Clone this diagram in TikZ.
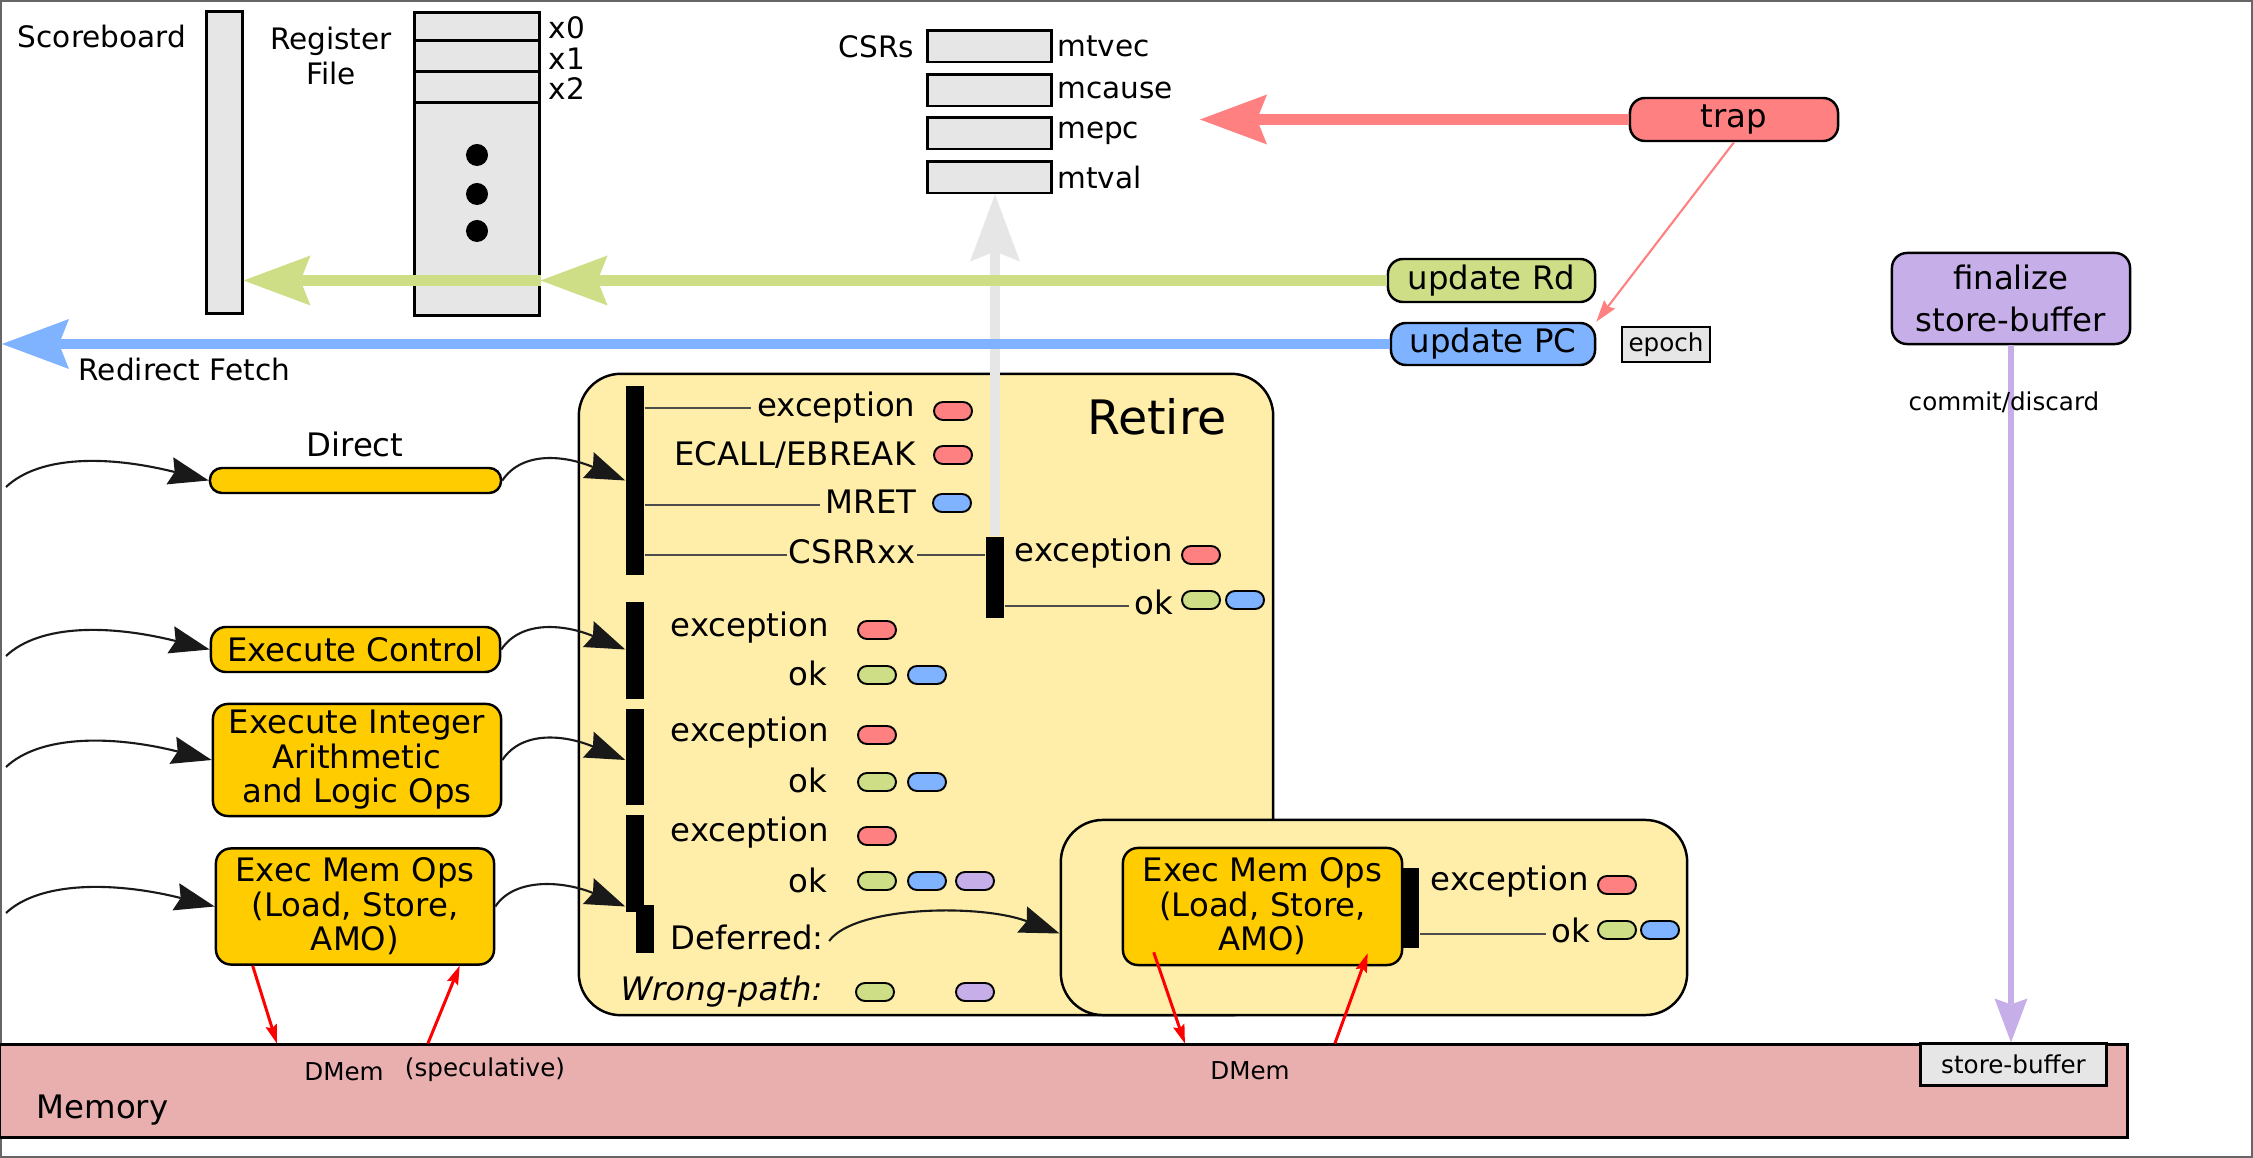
\documentclass[tikz,border=0pt]{standalone}
\usepackage{fontspec}
\setmainfont{DejaVu Sans}
\usetikzlibrary{arrows.meta,calc}
\definecolor{cyel}{HTML}{FFCC00}
\definecolor{cret}{HTML}{FFEEAA}
\definecolor{cred}{HTML}{FF8080}
\definecolor{cgrn}{HTML}{CDDE87}
\definecolor{cblu}{HTML}{80B3FF}
\definecolor{cpur}{HTML}{C6AFE9}
\definecolor{cgry}{HTML}{E6E6E6}
\definecolor{cmem}{HTML}{E9AFAF}
\definecolor{cframe}{HTML}{666666}
\begin{document}
\begin{tikzpicture}[x=0.01cm,y=-0.01cm,
  nf/.style={font=\fontsize{9.2}{9.8}\selectfont},
  tf/.style={font=\fontsize{8.4}{9.7}\selectfont},
  sf/.style={font=\fontsize{7}{8}\selectfont},
  lbl/.style={nf, inner sep=0.05cm, text height=7pt, text depth=2.2pt},
  grybox/.style={draw, line width=0.85pt, fill=cgry, inner sep=0},
  exnode/.style={draw, line width=0.7pt, fill=cyel, rounded corners=0.15cm, nf, align=center, inner sep=0},
  cnode/.style={draw, line width=0.7pt, rounded corners=0.15cm, nf, inner sep=0, align=center},
  blkbar/.style={fill=black, inner sep=0, minimum width=0.18cm},
  pill/.style={draw, line width=0.55pt, rounded corners=0.09cm, minimum width=0.38cm, minimum height=0.18cm, inner sep=0},
  tline/.style={line width=0.45pt, black!70},
  carrow/.style={line width=0.6pt, black!90, -{Stealth[length=0.4cm,width=0.28cm,inset=0.05cm,line width=0pt]}},
  marrow/.style={line width=0.85pt, red, -{Stealth[length=0.19cm,width=0.12cm,inset=0.03cm,line width=0pt]}},
  bigtip/.style={-{Stealth[length=0.67cm,width=0.5cm,inset=0.1cm,line width=0pt]}},
]
\useasboundingbox (0,0) rectangle (2253,1158);
\draw[cframe, line width=0.6pt] (1,1) rectangle (2252,1157);

% ---- scoreboard & register file
\node[tf] (sbl) at (102,36) {Scoreboard};
\node[grybox, minimum width=0.35cm, minimum height=3.01cm] (sb) at (224.5,162.5) {};
\node[tf, align=center] (rfl) at (331,56) {Register\\File};
\node[grybox, minimum width=1.24cm, minimum height=3.02cm] (rf) at (477,164) {};
\foreach \d in {29,60,91,273}
  \draw[line width=0.85pt] ($(rf.north west)+(0,\d)$) -- ($(rf.north east)+(0,\d)$);
\foreach \d in {155,194,231}
  \fill (477,\d) circle (0.11cm);
\node[tf, anchor=west, inner sep=0] (x0) at (548,28) {x0};
\node[tf, anchor=west, inner sep=0] (x1) at (548,59) {x1};
\node[tf, anchor=west, inner sep=0] (x2) at (548,89) {x2};

% ---- CSRs
\node[grybox, minimum width=1.23cm, minimum height=0.31cm] (c1) at (989.5,46.5) {};
\node[grybox, minimum width=1.23cm, minimum height=0.31cm] (c2) at (989.5,90.5) {};
\node[grybox, minimum width=1.23cm, minimum height=0.31cm] (c3) at (989.5,133.5) {};
\node[grybox, minimum width=1.23cm, minimum height=0.31cm] (c4) at (989.5,177.5) {};
\node[tf, anchor=east] (csrl) at (c1.west) {CSRs};
\node[tf, anchor=west, inner sep=0.04cm] (l1) at (c1.east) {mtvec};
\node[tf, anchor=west, inner sep=0.04cm] (l2) at (c2.east) {mcause};
\node[tf, anchor=west, inner sep=0.04cm] (l3) at (c3.east) {mepc};
\node[tf, anchor=west, inner sep=0.04cm] (l4) at (c4.east) {mtval};

% ---- right top nodes
\node[cnode, fill=cred, minimum width=2.08cm, minimum height=0.43cm] (trap) at (1734,119.5) {trap};
\node[cnode, fill=cgrn, minimum width=2.07cm, minimum height=0.43cm] (updrd) at (1491.5,280.5) {update Rd};
\node[cnode, fill=cblu, minimum width=2.04cm, minimum height=0.42cm] (updpc) at (1493,344) {update PC};
\node[draw, line width=0.6pt, fill=cgry, sf, minimum width=0.88cm, minimum height=0.35cm, inner sep=0] (epoch) at (1666,344.5) {epoch};
\node[cnode, fill=cpur, minimum width=2.38cm, minimum height=0.91cm, font=\fontsize{9.2}{11.8}\selectfont] (fin) at (2011,298.5) {finalize\\store-buffer};

% ---- memory
\node[draw, line width=0.85pt, fill=cmem, minimum width=21.27cm, minimum height=0.92cm, inner sep=0] (mem) at (1063.5,1091) {};
\node[nf, anchor=west, inner sep=0] (meml) at (36,1110) {Memory};
\node[grybox, sf, minimum width=1.85cm, minimum height=0.41cm] (sbuf) at (2013.5,1064.5) {store-buffer};
\node[sf] (dm1) at (344,1072) {DMem};
\node[sf] (spec) at (485,1070) {(speculative)};
\node[sf] (dm2) at (1250,1071) {DMem};

% ---- exec nodes
\node[exnode, minimum width=2.91cm, minimum height=0.25cm, rounded corners=0.12cm] (direct) at (355.5,480.5) {};
\node[nf] (dirl) at (355,444) {Direct};
\node[exnode, minimum width=2.89cm, minimum height=0.45cm] (ctrl) at (355.5,649.5) {Execute Control};
\node[exnode, minimum width=2.88cm, minimum height=1.12cm] (intg) at (357,760) {Execute Integer\\Arithmetic\\and Logic Ops};
\node[exnode, minimum width=2.78cm, minimum height=1.16cm] (memL) at (355,906.5) {Exec Mem Ops\\(Load, Store,\\AMO)};

% ---- retire
\node[draw, line width=0.7pt, fill=cret, rounded corners=0.42cm, minimum width=6.94cm, minimum height=6.41cm, inner sep=0] (ret) at (926,694.5) {};
\node[font=\fontsize{13.5}{15}\selectfont] (retl) at (1157,417) {Retire};
\node[blkbar, minimum height=1.89cm] (b1) at (635,480.5) {};
\node[blkbar, minimum height=0.97cm] (b2) at (635,650.5) {};
\node[blkbar, minimum height=0.96cm] (b3) at (635,757) {};
\node[blkbar, minimum height=0.97cm] (b4) at (635,863.5) {};
\node[blkbar, minimum height=0.48cm] (b4s) at (645,929) {};
\node[blkbar, minimum height=0.81cm] (bc) at (995,577.5) {};

\node[lbl, anchor=east] (e1) at (921,408) {exception};
\node[lbl, anchor=east] (eb) at (921,457) {ECALL/EBREAK};
\node[lbl, anchor=east] (mr) at (922,505) {MRET};
\node[lbl, anchor=east, inner sep=0.01cm] (cs) at (917,555) {CSRRxx};
\node[lbl, anchor=west] (ce) at (1009,553) {exception};
\node[lbl, anchor=west] (ok1) at (1129,606) {ok};
\node[lbl, anchor=west] (e2) at (665,628) {exception};
\node[lbl, anchor=east] (k2) at (833,677) {ok};
\node[lbl, anchor=west] (e3) at (665,733) {exception};
\node[lbl, anchor=east] (k3) at (833,784) {ok};
\node[lbl, anchor=west] (e4) at (665,833) {exception};
\node[lbl, anchor=east] (k4) at (833,884) {ok};
\node[lbl, anchor=west] (def) at (665,941) {Deferred:};
\node[lbl, anchor=west] (wp) at (615,992) {\itshape Wrong-path:};

\draw[tline] (b1.east |- e1.west) -- (e1.west);
\draw[tline] (b1.east |- mr.west) -- (mr.west);
\draw[tline] (b1.east |- cs.west) -- (cs.west);
\draw[tline] (cs.east) -- (bc.west |- cs.east);
\draw[tline] (bc.east |- ok1.west) -- (ok1.west);

\node[pill, fill=cred] (p1) at (953,411) {};
\node[pill, fill=cred] (p2) at (953,455) {};
\node[pill, fill=cblu] (p3) at (952,503) {};
\node[pill, fill=cred] (p4) at (1201,555) {};
\node[pill, fill=cgrn] (p5) at (1201,600) {};
\node[pill, fill=cblu] (p6) at (1245,600) {};
\node[pill, fill=cred] (p7) at (877,630) {};
\node[pill, fill=cgrn] (p8) at (877,675) {};
\node[pill, fill=cblu] (p9) at (927,675) {};
\node[pill, fill=cred] (p10) at (877,735) {};
\node[pill, fill=cgrn] (p11) at (877,782) {};
\node[pill, fill=cblu] (p12) at (927,782) {};
\node[pill, fill=cred] (p13) at (877,836) {};
\node[pill, fill=cgrn] (p14) at (877,881) {};
\node[pill, fill=cblu] (p15) at (927,881) {};
\node[pill, fill=cpur] (p16) at (975,881) {};
\node[pill, fill=cgrn] (p17) at (875,992) {};
\node[pill, fill=cpur] (p18) at (975,992) {};

% ---- deferred mem box
\node[draw, line width=0.7pt, fill=cret, rounded corners=0.42cm, minimum width=6.26cm, minimum height=1.95cm, inner sep=0] (defb) at (1374,917.5) {};
\node[exnode, minimum width=2.79cm, minimum height=1.17cm] (memR) at (1262.5,906.5) {Exec Mem Ops\\(Load, Store,\\AMO)};
\node[blkbar, minimum width=0.17cm, minimum height=0.80cm] (bm) at (1410.5,908) {};
\node[lbl, anchor=west] (me) at (1425,882) {exception};
\node[lbl, anchor=west] (mk) at (1546,934) {ok};
\draw[tline] (bm.east |- mk.west) -- (mk.west);
\node[pill, fill=cred] (p19) at (1617,885) {};
\node[pill, fill=cgrn] (p20) at (1617,930) {};
\node[pill, fill=cblu] (p21) at (1660,930) {};

% ---- curved black arrows
\coordinate (inD) at (6,487);
\coordinate (inC) at (6,656);
\coordinate (inI) at (6,767);
\coordinate (inM) at (6,913);
\draw[carrow] (inD) .. controls +(34,-32) and +(-100,-25) .. (direct.west);
\draw[carrow] (inC) .. controls +(34,-32) and +(-100,-25) .. (ctrl.west);
\draw[carrow] (inI) .. controls +(34,-32) and +(-100,-25) .. (intg.west);
\draw[carrow] (inM) .. controls +(34,-32) and +(-100,-25) .. (memL.west);
\draw[carrow] (direct.east) .. controls +(20,-30) and +(-60,-25) .. (b1.west |- direct.east);
\draw[carrow] (ctrl.east) .. controls +(20,-30) and +(-60,-25) .. (b2.west |- ctrl.east);
\draw[carrow] (intg.east) .. controls +(20,-30) and +(-60,-25) .. (b3.west |- intg.east);
\draw[carrow] (memL.east) .. controls +(20,-30) and +(-60,-25) .. (b4.west |- memL.east);
\draw[carrow] (def.east) .. controls +(25,-35) and +(-80,-30) .. ($(defb.west)+(0,16)$);

% ---- big arrows
\draw[cgry, line width=3.1pt, bigtip] (bc.north) -- (bc.north |- c4.south);
\draw[cgrn, line width=3.4pt, bigtip] (updrd.west) -- (rf.east |- updrd.west);
\draw[cgrn, line width=3.4pt, bigtip] (rf.east |- updrd.west) -- (sb.east |- updrd.west);
\coordinate (fetch) at (2,344);
\draw[cblu, line width=3.1pt, bigtip] (updpc.west) -- (fetch);
\node[tf, anchor=west, inner sep=0] (rdf) at (78,369) {Redirect Fetch};
\coordinate (trapto) at (1200,119.5);
\draw[cred, line width=3.1pt, bigtip] (trap.west) -- (trapto);
\draw[cred, line width=0.6pt, -{Stealth[length=0.22cm,width=0.14cm,inset=0.03cm,line width=0pt]}] (trap.south) -- (updpc.north east);
\draw[cpur, line width=1.7pt, -{Stealth[length=0.44cm,width=0.33cm,inset=0.06cm,line width=0pt]}] (fin.south) -- (fin.south |- sbuf.north);
\node[sf] (cd) at (2004,402) {commit/discard};

% ---- memory arrows
\draw[marrow] ($(memL.south west)+(38,0)$) -- ($(mem.north west)+(279,0)$);
\draw[marrow] ($(mem.north west)+(430,0)$) -- ($(memL.south west)+(245,0)$);
\draw[marrow] ($(memR.south west)+(32,-14)$) -- ($(mem.north west)+(1187,0)$);
\draw[marrow] ($(mem.north west)+(1337,0)$) -- ($(memR.south west)+(246,-13)$);
\end{tikzpicture}
\end{document}
